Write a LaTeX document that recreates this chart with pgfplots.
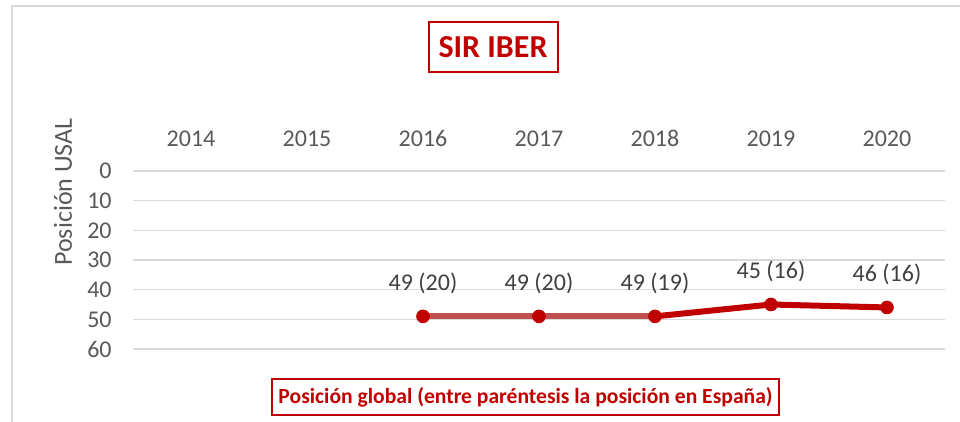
\documentclass[border=0pt]{standalone}
\usepackage{fontspec}
\setmainfont{Carlito}
\usepackage{pgfplots}
\pgfplotsset{compat=1.18}
\definecolor{darkred}{RGB}{192,0,0}
\definecolor{lightred}{RGB}{192,80,77}
\definecolor{gridgray}{RGB}{217,217,217}
\definecolor{txtgray}{RGB}{89,89,89}
\definecolor{lblgray}{RGB}{64,64,64}
\pgfplotstableread{
x y label
2 49 {49 (20)}
3 49 {49 (20)}
4 49 {49 (19)}
5 45 {45 (16)}
6 46 {46 (16)}
}\datatable
\begin{document}
\begin{tikzpicture}
\useasboundingbox (0,0) rectangle (480pt,211pt);
\draw[gridgray, line width=1pt] (6pt,0) -- (6pt,208pt) -- (480pt,208pt);
\begin{axis}[
  at={(66.5pt,36.5pt)}, anchor=south west,
  scale only axis, width=406pt, height=89pt,
  xmin=-0.5, xmax=6.5, ymin=0, ymax=60, y dir=reverse,
  xtick={0,1,2,3,4,5,6},
  xticklabels={2014,2015,2016,2017,2018,2019,2020},
  xticklabel pos=upper,
  ytick={0,10,20,30,40,50,60},
  ymajorgrids,
  major grid style={gridgray, line width=0.75pt},
  axis line style={draw=none},
  tick style={draw=none},
  xticklabel style={anchor=base, yshift=12pt, font=\fontsize{12}{14}\selectfont, text=txtgray},
  yticklabel style={anchor=east, inner sep=0pt, xshift=-10.5pt, font=\fontsize{12}{14}\selectfont, text=txtgray},
  /pgf/number format/assume math mode=true,
  clip=false,
]
\addplot[lightred, line width=3pt] coordinates {(2,49) (3,49) (4,49)};
\addplot[darkred, line width=3pt] coordinates {(4,49) (5,45) (6,46)};
\addplot[only marks, mark=*, mark size=3.2pt, darkred,
  nodes near coords, point meta=explicit symbolic,
  nodes near coords style={anchor=base, yshift=13pt, font=\fontsize{12}{14}\selectfont, text=lblgray}]
  table[x=x, y=y, meta=label] {\datatable};
\end{axis}
\node[rotate=90, font=\fontsize{13}{15}\selectfont, text=txtgray] at (31.5pt,115pt) {Posición USAL};
\node[draw=darkred, line width=1pt, text=darkred, font=\bfseries\fontsize{16}{19}\selectfont, inner xsep=5pt, minimum height=25pt] at (246.5pt,187.5pt) {SIR IBER};
\node[draw=darkred, line width=1pt, text=darkred, font=\bfseries\fontsize{10.8}{13}\selectfont, minimum width=252pt, minimum height=18pt] at (262.75pt,12.5pt) {Posición global (entre paréntesis la posición en España)};
\end{tikzpicture}
\end{document}
